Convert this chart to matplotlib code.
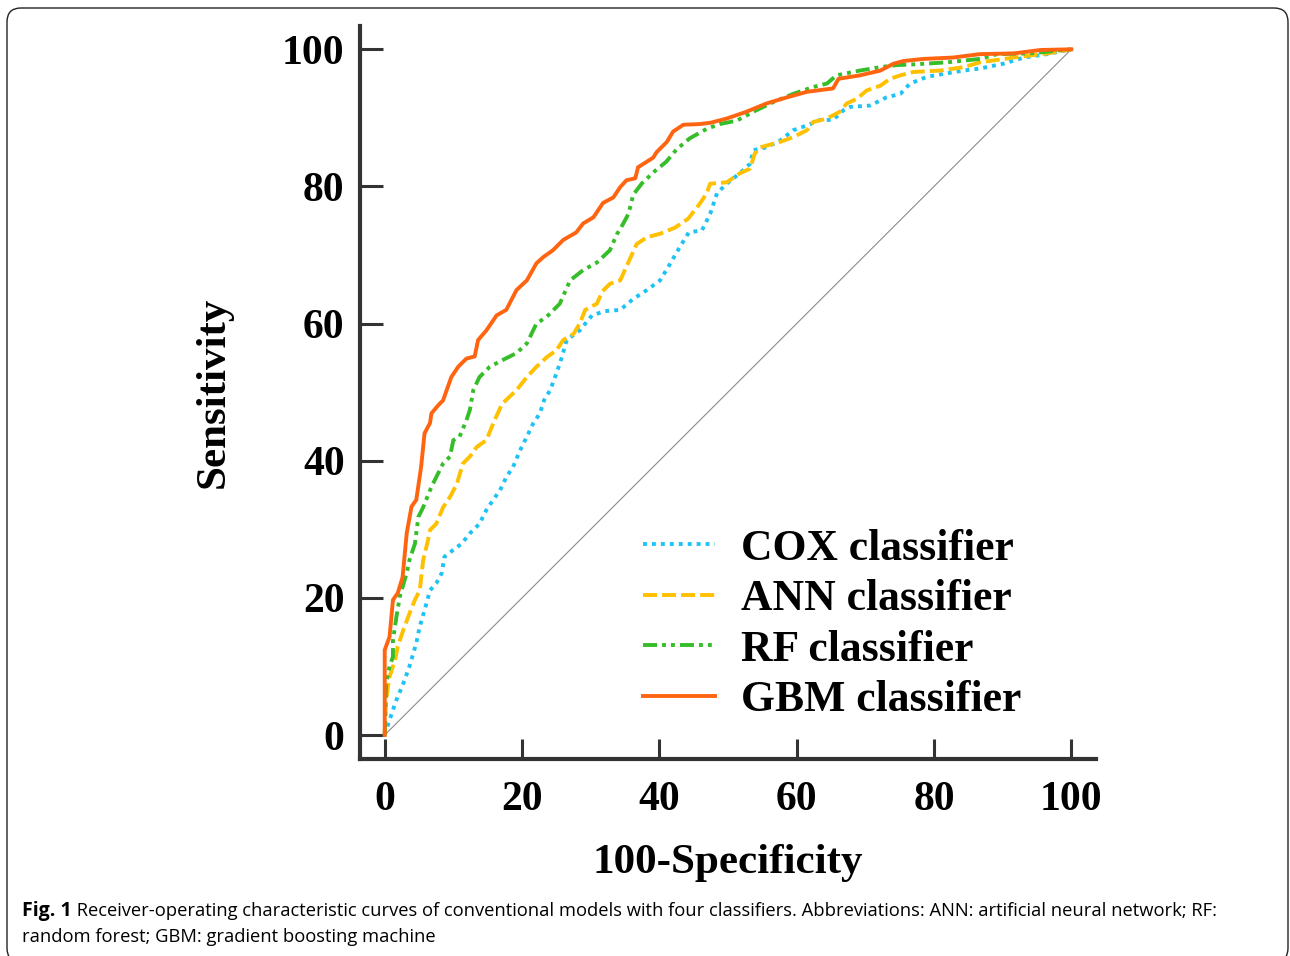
"""ROC curves of the four conventional classifiers (COX, ANN, RF, GBM)."""

import matplotlib
matplotlib.use("Agg")
import matplotlib.pyplot as plt
from matplotlib.patches import FancyBboxPatch
from matplotlib.transforms import IdentityTransform

# values: 100-specificity (x) and sensitivity (y), in %
cox_fpr = [0, 0.7, 1.7, 2.7, 3.6, 4.6, 5.1, 5.8, 6.6, 7.5, 8.3, 8.7, 10.0, 11.2, 12.4, 13.8, 14.8,
           15.8, 16.8, 17.7, 18.7, 19.7, 20.7, 21.6, 22.6, 23.2, 24.1, 25.0, 25.8, 26.5, 28.4, 30.2,
           32.0, 34.3, 36.2, 38.2, 40.1, 41.5, 43.0, 44.3, 46.2, 47.4, 48.4, 49.8, 51.7, 53.2, 53.7,
           55.6, 57.6, 59.5, 61.5, 63.4, 65.3, 66.8, 67.8, 70.7, 73.1, 75.1, 76.5, 79.0, 81.9, 84.3,
           86.7, 90.1, 93.1, 96.5, 100]
cox_tpr = [0, 2.2, 5.1, 7.5, 10.0, 13.4, 15.8, 18.2, 21.1, 22.1, 23.6, 26.0, 27.0, 27.9, 29.4, 30.8,
           32.8, 34.3, 35.7, 37.6, 39.1, 41.5, 43.5, 45.4, 46.9, 48.8, 50.3, 52.7, 55.1, 57.6, 59.0,
           61.2, 61.8, 62.0, 63.6, 64.9, 66.3, 68.6, 71.2, 73.3, 73.6, 76.0, 79.0, 80.4, 81.9, 83.3,
           85.3, 85.7, 86.7, 88.2, 88.9, 89.7, 89.7, 91.1, 91.6, 91.8, 93.0, 93.5, 95.0, 96.0, 96.5,
           96.9, 97.2, 97.9, 98.8, 99.3, 100]

ann_fpr = [0, 0.2, 0.7, 1.5, 1.9, 2.7, 3.6, 4.4, 5.1, 5.6, 6.3, 6.6, 7.5, 8.5, 9.5, 10.5, 11.4, 12.4,
           13.4, 14.8, 16.0, 17.1, 19.2, 20.7, 22.1, 23.6, 25.0, 26.0, 27.5, 28.4, 29.2, 30.9, 31.7,
           32.8, 34.3, 35.2, 36.2, 36.7, 38.2, 40.1, 42.3, 44.2, 45.9, 46.9, 47.4, 49.8, 51.7, 53.2,
           53.9, 54.7, 57.6, 59.5, 61.5, 62.4, 64.4, 66.3, 67.3, 68.8, 70.2, 72.2, 73.6, 75.1, 77.0,
           80.9, 84.3, 86.7, 91.6, 96.5, 100]
ann_tpr = [0, 5.1, 8.5, 10.9, 12.9, 15.3, 17.7, 19.7, 21.1, 25.5, 28.4, 29.9, 30.8, 33.2, 34.7, 36.6,
           39.6, 40.6, 42.0, 43.0, 45.9, 48.3, 50.3, 52.2, 53.7, 55.1, 56.1, 57.6, 58.5, 60.0, 62.0,
           62.9, 64.7, 65.8, 66.3, 68.3, 70.5, 71.6, 72.6, 73.1, 74.0, 75.3, 77.5, 79.0, 80.4, 80.6,
           81.9, 82.6, 84.8, 85.7, 86.5, 87.2, 88.2, 89.4, 89.9, 90.9, 92.1, 92.8, 94.0, 94.7, 95.7,
           96.2, 96.7, 96.9, 97.4, 98.1, 98.8, 99.4, 100]

rf_fpr = [0, 0.2, 0.7, 1.2, 1.2, 1.7, 2.2, 3.2, 3.6, 4.4, 4.9, 5.6, 6.6, 7.3, 8.0, 8.5, 9.5, 10.0,
          10.9, 11.9, 12.4, 12.9, 13.8, 15.3, 17.2, 19.2, 20.7, 22.1, 23.6, 25.5, 27.0, 28.9, 30.9,
          32.8, 33.8, 34.7, 35.5, 36.2, 37.5, 39.3, 41.0, 42.5, 44.4, 46.9, 48.8, 51.3, 53.7, 56.6,
          59.5, 62.4, 64.4, 65.8, 69.2, 72.2, 74.6, 77.0, 81.9, 86.7, 89.2, 94.0, 100]
rf_tpr = [0, 7.5, 10.0, 11.4, 13.8, 17.2, 20.2, 23.6, 25.5, 27.9, 31.8, 33.2, 35.7, 37.2, 38.6, 39.6,
          40.6, 43.0, 43.5, 45.9, 47.4, 50.3, 52.2, 53.7, 54.7, 55.7, 57.1, 60.0, 61.0, 62.9, 66.3,
          67.8, 68.9, 70.7, 73.0, 74.5, 76.0, 78.8, 80.5, 82.2, 83.6, 85.4, 87.0, 88.4, 89.1, 89.6,
          90.9, 92.3, 93.5, 94.5, 95.0, 96.2, 96.9, 97.4, 97.7, 97.8, 98.1, 98.6, 99.3, 99.4, 100]

gbm_fpr = [0, 0, 0.7, 1.2, 1.9, 2.6, 3.2, 3.9, 4.6, 5.3, 5.8, 6.6, 6.8, 7.8, 8.5, 9.7, 10.7, 11.9,
           13.1, 13.6, 14.8, 16.3, 17.7, 19.2, 20.7, 22.1, 23.1, 24.5, 26.0, 27.9, 28.9, 30.4, 31.8,
           33.3, 34.3, 35.2, 36.5, 36.9, 39.1, 39.6, 41.1, 42.0, 43.5, 45.9, 47.5, 49.8, 52.7, 55.6,
           58.6, 61.5, 65.3, 66.1, 69.2, 72.2, 74.1, 75.6, 78.5, 82.8, 86.7, 91.6, 95.5, 100]
gbm_tpr = [0, 12.4, 14.3, 19.7, 20.7, 23.0, 29.4, 33.3, 34.3, 39.1, 44.0, 45.5, 46.9, 48.1, 48.8,
           52.2, 53.7, 54.9, 55.2, 57.6, 59.0, 61.2, 62.0, 64.9, 66.3, 68.8, 69.7, 70.7, 72.2, 73.3,
           74.6, 75.5, 77.6, 78.4, 79.9, 80.9, 81.2, 82.8, 84.2, 85.0, 86.5, 88.0, 89.0, 89.1, 89.3,
           89.9, 90.9, 92.1, 93.0, 93.8, 94.3, 95.7, 96.2, 96.9, 97.9, 98.3, 98.6, 98.8, 99.3, 99.4,
           99.9, 100]

labels = ["COX classifier", "ANN classifier", "RF classifier", "GBM classifier"]
colors = ["#1EC3F5", "#FFC000", "#36BE2A", "#FF6410"]
styles = [(0, (1, 1.3)), (0, (3.6, 1.3)), (0, (3.6, 1.3, 1, 1.3, 1, 1.3)), "-"]
ticks = [0, 20, 40, 60, 80, 100]

serif = "Liberation Serif"
ink = "#333333"

fig = plt.figure(figsize=(12.9, 9.56), dpi=100)
ax = fig.add_axes([360 / 1290, 197 / 956, 736 / 1290, 733 / 956])

ax.plot([0, 100], [0, 100], color="#8c8c8c", lw=0.8, zorder=1)
series = [(cox_fpr, cox_tpr), (ann_fpr, ann_tpr), (rf_fpr, rf_tpr), (gbm_fpr, gbm_tpr)]
for (x, y), lab, c, ls in zip(series, labels, colors, styles):
    ax.plot(x, y, color=c, linestyle=ls, lw=2.8, label=lab, zorder=2)

ax.set_xlim(-3.6, 103.6)
ax.set_ylim(-3.5, 103.4)
ax.set_xticks(ticks)
ax.set_yticks(ticks)
for sp in ["top", "right"]:
    ax.spines[sp].set_visible(False)
for sp in ["left", "bottom"]:
    ax.spines[sp].set_linewidth(3)
    ax.spines[sp].set_color(ink)
ax.tick_params(axis="y", direction="in", length=16.5, width=2.2, color=ink, pad=11)
ax.tick_params(axis="x", direction="in", length=14.5, width=2.2, color=ink, pad=15.8)
for t in ax.get_xticklabels() + ax.get_yticklabels():
    t.set_fontfamily(serif)
    t.set_fontweight("bold")
    t.set_fontsize(30)

ax.set_xlabel("100-Specificity", fontfamily=serif, fontweight="bold", fontsize=31)
ax.set_ylabel("Sensitivity", fontfamily=serif, fontweight="bold", fontsize=31)
ax.xaxis.set_label_coords(0.5, -0.116)
ax.yaxis.set_label_coords(-0.173, 0.5)

ax.legend(loc="upper left", bbox_to_anchor=(37.6, 30.1), bbox_transform=ax.transData,
          frameon=False, prop={"family": serif, "weight": "bold", "size": 31.4},
          handlelength=1.66, handletextpad=0.59, labelspacing=0.24,
          borderpad=0, borderaxespad=0)

# caption below the chart
fig_txt = fig.text(22 / 1290, 1 - 911 / 956, "Fig. 1", fontfamily="Open Sans", fontweight="bold",
                   fontsize=14, va="center", ha="left")
ax.annotate(" Receiver-operating characteristic curves of conventional models with four "
            "classifiers. Abbreviations: ANN: artificial neural network; RF:",
            xy=(1, 0.5), xycoords=fig_txt, va="center", ha="left",
            fontfamily="Open Sans", fontsize=13.25, annotation_clip=False)
fig.text(22 / 1290, 1 - 937 / 956, "random forest; GBM: gradient boosting machine",
         fontfamily="Open Sans", fontsize=13.25, va="center", ha="left")

# rounded frame around the whole figure (bottom edge runs off the image)
frame = FancyBboxPatch((7, -6), 1281, 954, boxstyle="round,pad=0,rounding_size=14",
                       transform=IdentityTransform(), fill=False, edgecolor="#222222", lw=1.0)
fig.patches.append(frame)

fig.savefig("out.png", dpi=100)
